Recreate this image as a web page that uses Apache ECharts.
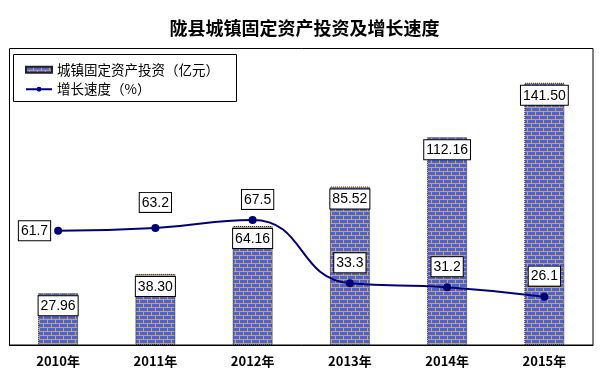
<!DOCTYPE html>
<html><head><meta charset="utf-8">
<script src="https://cdn.jsdelivr.net/npm/echarts@6/dist/echarts.min.js"></script>
<style>html,body{margin:0;padding:0;background:#fff}#c{width:609px;height:381px}</style>
</head><body><div id="c"></div>
<script>
const categories = ['2010年','2011年','2012年','2013年','2014年','2015年'];
const investment = [27.96, 38.30, 64.16, 85.52, 112.16, 141.50];
const growth = [61.7, 63.2, 67.5, 33.3, 31.2, 26.1];
const titleText = '陇县城镇固定资产投资及增长速度';
const barName = '城镇固定资产投资（亿元）';
const lineName = '增长速度（%）';

// brick pattern
const pc = document.createElement('canvas');
pc.width = 8; pc.height = 8;
const px = pc.getContext('2d');
px.fillStyle = '#c9a46a'; px.fillRect(0,0,8,8);
px.fillStyle = '#4a62dc';
px.fillRect(0,0,7,3);
px.fillRect(4,4,7,3); px.fillRect(0,4,3,3);
const brick = {image: pc, repeat: 'repeat'};

const CJK = '"Noto Sans CJK SC", "SimHei", sans-serif';
const NUM = '"Liberation Sans", Arial, sans-serif';

const chart = echarts.init(document.getElementById('c'), null, {renderer:'canvas'});
const labelBox = {
  show: true, color: '#000', fontFamily: NUM, fontSize: 14,
  backgroundColor: '#fff', borderColor: '#000', borderWidth: 1,
  padding: [3, 2, 2, 2]
};
chart.setOption({
  animation: false,
  title: {
    text: titleText, left: 'center', top: 14,
    textStyle: {fontFamily: CJK, fontSize: 18, fontWeight: 'bold', color: '#000'}
  },
  graphic: [{
    type: 'rect', left: 13, top: 54, z: 1,
    shape: {width: 223, height: 47},
    style: {fill: '#fff', stroke: '#000', lineWidth: 1}
  }],
  legend: {
    orient: 'vertical', left: 20, top: 58, itemGap: 6, z: 5,
    itemWidth: 26, itemHeight: 6,
    textStyle: {fontFamily: CJK, fontSize: 13.5, color: '#000'},
    data: [
      {name: barName, icon: 'rect'},
      {name: lineName}
    ]
  },
  grid: {left: 9.5, right: 16, top: 48.5, bottom: 36, show: true,
    borderColor: '#000', borderWidth: 1, backgroundColor: '#fff'},
  xAxis: {
    type: 'category', data: categories, boundaryGap: true,
    axisLine: {lineStyle: {color: '#000', width: 1}},
    axisTick: {inside: true, length: 4, lineStyle: {color: '#000'}},
    axisLabel: {fontFamily: CJK, fontSize: 13, fontWeight: 'bold', color: '#000', margin: 10}
  },
  yAxis: {
    type: 'value', min: 0, max: 160, show: false, splitLine: {show: false}
  },
  series: [
    {
      name: barName, type: 'bar', data: investment, barWidth: 40,
      itemStyle: {color: brick, borderColor: '#222', borderWidth: 1, borderType: 'dotted'},
      label: Object.assign({}, labelBox, {position: 'insideTop', distance: 3,
        formatter: p => Number(p.value).toFixed(2)}),
      z: 2
    },
    {
      name: lineName, type: 'line', smooth: 0.5,
      data: growth.map((v, i) => {
        const d = {value: v};
        if (i === 0) d.label = {position: 'left', distance: 4};
        if (i === 1) d.label = {distance: 12};
        if (i === 2) d.label = {offset: [5, 0]};
        return d;
      }),
      symbol: 'circle', symbolSize: 8,
      lineStyle: {color: '#00007a', width: 2},
      itemStyle: {color: '#00007a'},
      label: Object.assign({}, labelBox, {position: 'top', distance: 7,
        formatter: p => Number(p.value).toFixed(1)}),
      z: 3
    }
  ]
});
</script></body></html>
